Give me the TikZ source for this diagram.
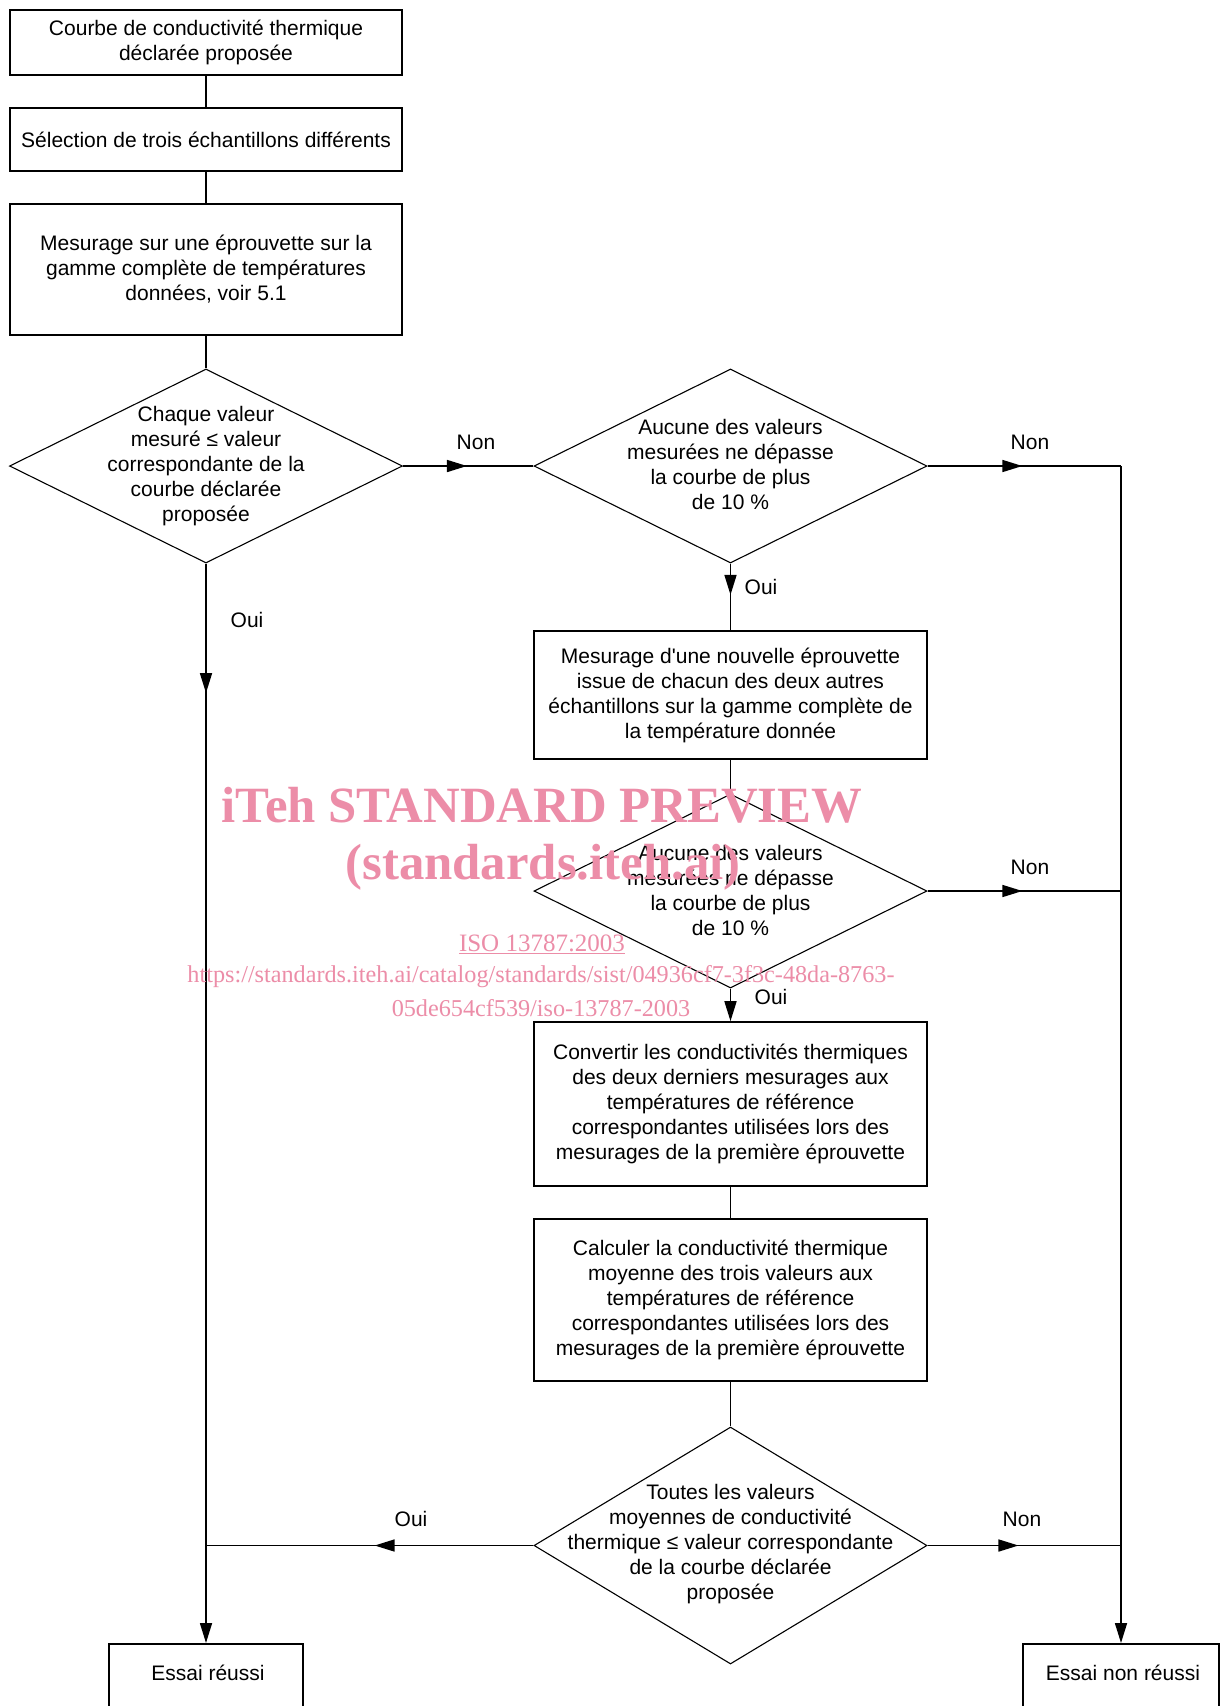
\documentclass[tikz,border=0pt]{standalone}
\usepackage{fontspec}
\setmainfont{Liberation Sans}
\newfontfamily\plainsans{Liberation Sans}
\newfontfamily\wmfont{Liberation Serif}
\usetikzlibrary{shapes.geometric,arrows.meta,decorations.markings}
\definecolor{wmpink}{RGB}{236,141,168}
\tikzset{
  txt/.style={font=\fontsize{21}{25}\selectfont, align=center, inner sep=0pt},
  box/.style={draw, line width=1.6pt, rectangle, minimum width=392pt, inner sep=0pt, txt},
  dia/.style={draw, line width=1.1pt, diamond, inner sep=0pt, minimum width=393pt},
  conn/.style={line width=1.6pt},
  tipend/.style={-{Triangle[length=20pt,width=12pt]}},
  midarrow/.style={postaction={decorate}, decoration={markings, mark=at position #1 with {\arrow{Triangle[length=20pt,width=12pt]}}}},
  lab/.style={txt},
  wm/.style={text=wmpink, inner sep=0pt, align=center},
}
\begin{document}
\begin{tikzpicture}[x=1pt,y=-1pt]
\useasboundingbox[fill=white] (0,0) rectangle (1229,1706);

% left column
\node[box, minimum height=65pt] (b1) at (206,42.5) {Courbe de conductivité thermique\\déclarée proposée};
\node[box, minimum height=63pt] (b2) at (206,139.5) {Sélection de trois échantillons différents};
\node[box, minimum height=131pt] (b3) at (206,269.5) {Mesurage sur une éprouvette sur la\\gamme complète de températures\\données, voir 5.1};
\node[dia, minimum height=194pt] (d1) at (206,466) {};
\node[txt] (d1t) at (206,466) {Chaque valeur\\mesuré ≤ valeur\\correspondante de la\\courbe déclarée\\proposée};

% right column
\node[dia, minimum height=194pt] (d2) at (730.5,466) {};
\node[txt] (d2t) at (730.5,464) {Aucune des valeurs\\mesurées ne dépasse\\la courbe de plus\\de 10 \%};
\node[box, minimum width=393pt, minimum height=128pt] (b4) at (730.5,695) {Mesurage d{\plainsans '}une nouvelle éprouvette\\issue de chacun des deux autres\\échantillons sur la gamme complète de\\la température donnée};
\node[dia, minimum height=194pt] (d3) at (730.5,891) {};
\node[txt] (d3t) at (730.5,890) {Aucune des valeurs\\mesurées ne dépasse\\la courbe de plus\\de 10 \%};
\node[box, minimum width=393pt, minimum height=164pt] (b5) at (730.5,1104) {Convertir les conductivités thermiques\\des deux derniers mesurages aux\\températures de référence\\correspondantes utilisées lors des\\mesurages de la première éprouvette};
\node[box, minimum width=393pt, minimum height=162pt] (b6) at (730.5,1300) {Calculer la conductivité thermique\\moyenne des trois valeurs aux\\températures de référence\\correspondantes utilisées lors des\\mesurages de la première éprouvette};
\node[dia, minimum height=237pt] (d4) at (730.5,1545.5) {};
\node[txt] (d4t) at (730.5,1544) {Toutes les valeurs\\moyennes de conductivité\\thermique ≤ valeur correspondante\\de la courbe déclarée\\proposée};

% end boxes
\node[draw, line width=1.6pt, minimum width=194pt, minimum height=90pt, anchor=north, inner sep=0pt] (pass) at (206,1643) {};
\node[txt] (passt) at (208,1673) {Essai réussi};
\node[draw, line width=1.6pt, minimum width=196pt, minimum height=90pt, anchor=north, inner sep=0pt] (fail) at (1121,1643) {};
\node[txt] (failt) at (1123,1673) {Essai non réussi};

% junction points
\coordinate (jr1) at (1121,466);
\coordinate (jr2) at (1121,891);
\coordinate (jr3) at (1121,1545.5);
\coordinate (jl) at (206,1545.5);

% connectors
\draw[conn] (b1) -- (b2);
\draw[conn] (b2) -- (b3);
\draw[conn] (b3) -- (d1);
\draw[conn, midarrow=0.49] (d1.east) -- (d2.west);
\draw[conn, midarrow=0.49] (d2.east) -- (jr1);
\draw[conn, tipend] (jr1) -- (fail.north);
\draw[conn, midarrow=0.47] (d2.south) -- (b4.north);
\draw[conn] (b4) -- (d3);
\draw[conn, midarrow=0.49] (d3.east) -- (jr2);
\draw[conn, tipend] (d3.south) -- (b5.north);
\draw[conn] (b5) -- (b6);
\draw[conn] (b6) -- (d4);
\draw[conn, midarrow=0.47] (d4.east) -- (jr3);
\draw[conn, midarrow=0.485] (d4.west) -- (jl);
\draw[conn, midarrow=0.12, tipend] (d1.south) -- (pass.north);

% labels
\node[lab] (n1) at (476,442) {Non};
\node[lab] (n2) at (1030,442) {Non};
\node[lab] (n3) at (1030,867) {Non};
\node[lab] (n4) at (1022,1519) {Non};
\node[lab] (o1) at (247,620) {Oui};
\node[lab] (o2) at (761,587) {Oui};
\node[lab] (o3) at (771,997) {Oui};
\node[lab] (o4) at (411,1519) {Oui};

% watermark
\node[wm, font=\wmfont\bfseries\fontsize{50.8}{55}\selectfont] (wm1) at (542,805) {iTeh STANDARD PREVIEW};
\node[wm, font=\wmfont\bfseries\fontsize{50.8}{55}\selectfont] (wm2) at (543,867) {(standards.iteh.ai)};
\node[wm, font=\wmfont\fontsize{25}{28}\selectfont] (wm3) at (542,944) {\underline{ISO 13787:2003}};
\node[wm, font=\wmfont\fontsize{24.2}{28}\selectfont] (wm4) at (541,977) {https://standards.iteh.ai/catalog/standards/sist/04936cf7-3f3c-48da-8763-};
\node[wm, font=\wmfont\fontsize{24.2}{28}\selectfont] (wm5) at (541,1008) {05de654cf539/iso-13787-2003};
\end{tikzpicture}
\end{document}
